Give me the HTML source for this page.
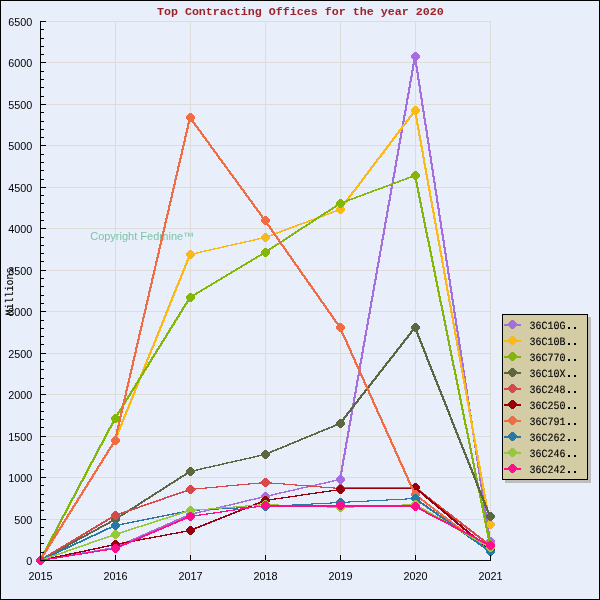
<!DOCTYPE html>
<html><head><meta charset="utf-8"><title>Top Contracting Offices for the year 2020</title>
<style>
html,body{margin:0;padding:0;background:#E8EEFA;}
body{width:600px;height:600px;overflow:hidden;}
svg{display:block;}
.ax{font-family:"Liberation Sans",sans-serif;font-size:10.8px;fill:#000;}
.mono{text-rendering:geometricPrecision;font-family:"Liberation Mono",monospace;font-size:12.0px;fill:#000;stroke:#000;stroke-width:0.12px;}
.title{font-family:"Liberation Mono",monospace;font-weight:bold;font-size:11px;fill:#9B2228;}
.cp{font-family:"Liberation Sans",sans-serif;font-size:11px;fill:#7DC4A6;}
</style></head><body>
<svg width="600" height="600" viewBox="0 0 600 600" style="will-change:transform">
<rect x="0" y="0" width="600" height="600" fill="#E8EEFA"/>
<rect x="0.5" y="0.5" width="599" height="599" fill="none" stroke="#000" stroke-width="1" shape-rendering="crispEdges"/>
<text class="title" transform="translate(300.3,15) scale(1.0606,1)" text-anchor="middle" xml:space="preserve">Top Contracting Offices for the year 2020</text>
<g stroke="#DDDCD8" stroke-width="1" shape-rendering="crispEdges">
<line x1="41" y1="519.5" x2="491" y2="519.5"/>
<line x1="41" y1="477.5" x2="491" y2="477.5"/>
<line x1="41" y1="436.5" x2="491" y2="436.5"/>
<line x1="41" y1="394.5" x2="491" y2="394.5"/>
<line x1="41" y1="353.5" x2="491" y2="353.5"/>
<line x1="41" y1="311.5" x2="491" y2="311.5"/>
<line x1="41" y1="270.5" x2="491" y2="270.5"/>
<line x1="41" y1="228.5" x2="491" y2="228.5"/>
<line x1="41" y1="187.5" x2="491" y2="187.5"/>
<line x1="41" y1="145.5" x2="491" y2="145.5"/>
<line x1="41" y1="104.5" x2="491" y2="104.5"/>
<line x1="41" y1="62.5" x2="491" y2="62.5"/>
<line x1="41" y1="21.5" x2="491" y2="21.5"/>
<line x1="115.5" y1="21" x2="115.5" y2="560"/>
<line x1="190.5" y1="21" x2="190.5" y2="560"/>
<line x1="265.5" y1="21" x2="265.5" y2="560"/>
<line x1="340.5" y1="21" x2="340.5" y2="560"/>
<line x1="415.5" y1="21" x2="415.5" y2="560"/>
<line x1="490.5" y1="21" x2="490.5" y2="560"/>
</g>
<text class="cp" x="90.2" y="240">Copyright Fedmine™</text>
<g shape-rendering="crispEdges" fill="#A46EDD">
<path d="M39,560 L114,547 L116,547 L116,548 L41,561 L39,561Z M114,547 L189,514 L191,514 L191,515 L116,548 L114,548Z M189,514 L264,496 L266,496 L266,497 L191,515 L189,515Z M264,496 L339,479 L341,479 L341,480 L266,497 L264,497Z M339,479 L414,56 L416,56 L416,57 L341,480 L339,480Z M414,56 L416,56 L491,541 L491,542 L489,542 L414,57Z"/>
<polygon points="39.5,556 41.5,556 45,559 45,562 41.5,565 39.5,565 36,562 36,559" fill="#A46EDD"/><polygon points="114.5,543 116.5,543 120,546 120,549 116.5,552 114.5,552 111,549 111,546" fill="#A46EDD"/><polygon points="189.5,510 191.5,510 195,513 195,516 191.5,519 189.5,519 186,516 186,513" fill="#A46EDD"/><polygon points="264.5,492 266.5,492 270,495 270,498 266.5,501 264.5,501 261,498 261,495" fill="#A46EDD"/><polygon points="339.5,475 341.5,475 345,478 345,481 341.5,484 339.5,484 336,481 336,478" fill="#A46EDD"/><polygon points="414.5,52 416.5,52 420,55 420,58 416.5,61 414.5,61 411,58 411,55" fill="#A46EDD"/><polygon points="489.5,537 491.5,537 495,540 495,543 491.5,546 489.5,546 486,543 486,540" fill="#A46EDD"/></g>
<g shape-rendering="crispEdges" fill="#FBB917">
<path d="M39,560 L114,440 L116,440 L116,441 L41,561 L39,561Z M114,440 L189,254 L191,254 L191,255 L116,441 L114,441Z M189,254 L264,237 L266,237 L266,238 L191,255 L189,255Z M264,237 L339,209 L341,209 L341,210 L266,238 L264,238Z M339,209 L414,110 L416,110 L416,111 L341,210 L339,210Z M414,110 L416,110 L491,524 L491,525 L489,525 L414,111Z"/>
<polygon points="39.5,556 41.5,556 45,559 45,562 41.5,565 39.5,565 36,562 36,559" fill="#FBB917"/><polygon points="114.5,436 116.5,436 120,439 120,442 116.5,445 114.5,445 111,442 111,439" fill="#FBB917"/><polygon points="189.5,250 191.5,250 195,253 195,256 191.5,259 189.5,259 186,256 186,253" fill="#FBB917"/><polygon points="264.5,233 266.5,233 270,236 270,239 266.5,242 264.5,242 261,239 261,236" fill="#FBB917"/><polygon points="339.5,205 341.5,205 345,208 345,211 341.5,214 339.5,214 336,211 336,208" fill="#FBB917"/><polygon points="414.5,106 416.5,106 420,109 420,112 416.5,115 414.5,115 411,112 411,109" fill="#FBB917"/><polygon points="489.5,520 491.5,520 495,523 495,526 491.5,529 489.5,529 486,526 486,523" fill="#FBB917"/></g>
<g shape-rendering="crispEdges" fill="#84B60A">
<path d="M39,560 L114,418 L116,418 L116,419 L41,561 L39,561Z M114,418 L189,297 L191,297 L191,298 L116,419 L114,419Z M189,297 L264,252 L266,252 L266,253 L191,298 L189,298Z M264,252 L339,203 L341,203 L341,204 L266,253 L264,253Z M339,203 L414,175 L416,175 L416,176 L341,204 L339,204Z M414,175 L416,175 L491,544 L491,545 L489,545 L414,176Z"/>
<polygon points="39.5,556 41.5,556 45,559 45,562 41.5,565 39.5,565 36,562 36,559" fill="#84B60A"/><polygon points="114.5,414 116.5,414 120,417 120,420 116.5,423 114.5,423 111,420 111,417" fill="#84B60A"/><polygon points="189.5,293 191.5,293 195,296 195,299 191.5,302 189.5,302 186,299 186,296" fill="#84B60A"/><polygon points="264.5,248 266.5,248 270,251 270,254 266.5,257 264.5,257 261,254 261,251" fill="#84B60A"/><polygon points="339.5,199 341.5,199 345,202 345,205 341.5,208 339.5,208 336,205 336,202" fill="#84B60A"/><polygon points="414.5,171 416.5,171 420,174 420,177 416.5,180 414.5,180 411,177 411,174" fill="#84B60A"/><polygon points="489.5,540 491.5,540 495,543 495,546 491.5,549 489.5,549 486,546 486,543" fill="#84B60A"/></g>
<g shape-rendering="crispEdges" fill="#5C6641">
<path d="M39,560 L114,519 L116,519 L116,520 L41,561 L39,561Z M114,519 L189,471 L191,471 L191,472 L116,520 L114,520Z M189,471 L264,454 L266,454 L266,455 L191,472 L189,472Z M264,454 L339,423 L341,423 L341,424 L266,455 L264,455Z M339,423 L414,327 L416,327 L416,328 L341,424 L339,424Z M414,327 L416,327 L491,516 L491,517 L489,517 L414,328Z"/>
<polygon points="39.5,556 41.5,556 45,559 45,562 41.5,565 39.5,565 36,562 36,559" fill="#5C6641"/><polygon points="114.5,515 116.5,515 120,518 120,521 116.5,524 114.5,524 111,521 111,518" fill="#5C6641"/><polygon points="189.5,467 191.5,467 195,470 195,473 191.5,476 189.5,476 186,473 186,470" fill="#5C6641"/><polygon points="264.5,450 266.5,450 270,453 270,456 266.5,459 264.5,459 261,456 261,453" fill="#5C6641"/><polygon points="339.5,419 341.5,419 345,422 345,425 341.5,428 339.5,428 336,425 336,422" fill="#5C6641"/><polygon points="414.5,323 416.5,323 420,326 420,329 416.5,332 414.5,332 411,329 411,326" fill="#5C6641"/><polygon points="489.5,512 491.5,512 495,515 495,518 491.5,521 489.5,521 486,518 486,515" fill="#5C6641"/></g>
<g shape-rendering="crispEdges" fill="#D8484B">
<path d="M39,560 L114,515 L116,515 L116,516 L41,561 L39,561Z M114,515 L189,489 L191,489 L191,490 L116,516 L114,516Z M189,489 L264,482 L266,482 L266,483 L191,490 L189,490Z M264,482 L266,482 L341,488 L341,489 L339,489 L264,483Z M340,487 L416,487 L416,489 L340,489Z M414,487 L416,487 L491,545 L491,546 L489,546 L414,488Z"/>
<polygon points="39.5,556 41.5,556 45,559 45,562 41.5,565 39.5,565 36,562 36,559" fill="#D8484B"/><polygon points="114.5,511 116.5,511 120,514 120,517 116.5,520 114.5,520 111,517 111,514" fill="#D8484B"/><polygon points="189.5,485 191.5,485 195,488 195,491 191.5,494 189.5,494 186,491 186,488" fill="#D8484B"/><polygon points="264.5,478 266.5,478 270,481 270,484 266.5,487 264.5,487 261,484 261,481" fill="#D8484B"/><polygon points="339.5,484 341.5,484 345,487 345,490 341.5,493 339.5,493 336,490 336,487" fill="#D8484B"/><polygon points="414.5,483 416.5,483 420,486 420,489 416.5,492 414.5,492 411,489 411,486" fill="#D8484B"/><polygon points="489.5,541 491.5,541 495,544 495,547 491.5,550 489.5,550 486,547 486,544" fill="#D8484B"/></g>
<g shape-rendering="crispEdges" fill="#98000F">
<path d="M39,560 L114,544 L116,544 L116,545 L41,561 L39,561Z M114,544 L189,530 L191,530 L191,531 L116,545 L114,545Z M189,530 L264,500 L266,500 L266,501 L191,531 L189,531Z M264,500 L339,489 L341,489 L341,490 L266,501 L264,501Z M340,488 L416,488 L416,489 L340,489Z M414,487 L416,487 L491,550 L491,551 L489,551 L414,488Z"/>
<polygon points="39.5,556 41.5,556 45,559 45,562 41.5,565 39.5,565 36,562 36,559" fill="#98000F"/><polygon points="114.5,540 116.5,540 120,543 120,546 116.5,549 114.5,549 111,546 111,543" fill="#98000F"/><polygon points="189.5,526 191.5,526 195,529 195,532 191.5,535 189.5,535 186,532 186,529" fill="#98000F"/><polygon points="264.5,496 266.5,496 270,499 270,502 266.5,505 264.5,505 261,502 261,499" fill="#98000F"/><polygon points="339.5,485 341.5,485 345,488 345,491 341.5,494 339.5,494 336,491 336,488" fill="#98000F"/><polygon points="414.5,483 416.5,483 420,486 420,489 416.5,492 414.5,492 411,489 411,486" fill="#98000F"/><polygon points="489.5,546 491.5,546 495,549 495,552 491.5,555 489.5,555 486,552 486,549" fill="#98000F"/></g>
<g shape-rendering="crispEdges" fill="#EF6C45">
<path d="M39,560 L114,440 L116,440 L116,441 L41,561 L39,561Z M114,440 L189,117 L191,117 L191,118 L116,441 L114,441Z M189,117 L191,117 L266,220 L266,221 L264,221 L189,118Z M264,220 L266,220 L341,327 L341,328 L339,328 L264,221Z M339,327 L341,327 L416,494 L416,495 L414,495 L339,328Z M414,494 L416,494 L491,551 L491,552 L489,552 L414,495Z"/>
<polygon points="39.5,556 41.5,556 45,559 45,562 41.5,565 39.5,565 36,562 36,559" fill="#EF6C45"/><polygon points="114.5,436 116.5,436 120,439 120,442 116.5,445 114.5,445 111,442 111,439" fill="#EF6C45"/><polygon points="189.5,113 191.5,113 195,116 195,119 191.5,122 189.5,122 186,119 186,116" fill="#EF6C45"/><polygon points="264.5,216 266.5,216 270,219 270,222 266.5,225 264.5,225 261,222 261,219" fill="#EF6C45"/><polygon points="339.5,323 341.5,323 345,326 345,329 341.5,332 339.5,332 336,329 336,326" fill="#EF6C45"/><polygon points="414.5,490 416.5,490 420,493 420,496 416.5,499 414.5,499 411,496 411,493" fill="#EF6C45"/><polygon points="489.5,547 491.5,547 495,550 495,553 491.5,556 489.5,556 486,553 486,550" fill="#EF6C45"/></g>
<g shape-rendering="crispEdges" fill="#2878A8">
<path d="M39,560 L114,525 L116,525 L116,526 L41,561 L39,561Z M114,525 L189,510 L191,510 L191,511 L116,526 L114,526Z M189,510 L264,506 L266,506 L266,507 L191,511 L189,511Z M264,506 L339,502 L341,502 L341,503 L266,507 L264,507Z M339,502 L414,498 L416,498 L416,499 L341,503 L339,503Z M414,498 L416,498 L491,551 L491,552 L489,552 L414,499Z"/>
<polygon points="39.5,556 41.5,556 45,559 45,562 41.5,565 39.5,565 36,562 36,559" fill="#2878A8"/><polygon points="114.5,521 116.5,521 120,524 120,527 116.5,530 114.5,530 111,527 111,524" fill="#2878A8"/><polygon points="189.5,506 191.5,506 195,509 195,512 191.5,515 189.5,515 186,512 186,509" fill="#2878A8"/><polygon points="264.5,502 266.5,502 270,505 270,508 266.5,511 264.5,511 261,508 261,505" fill="#2878A8"/><polygon points="339.5,498 341.5,498 345,501 345,504 341.5,507 339.5,507 336,504 336,501" fill="#2878A8"/><polygon points="414.5,494 416.5,494 420,497 420,500 416.5,503 414.5,503 411,500 411,497" fill="#2878A8"/><polygon points="489.5,547 491.5,547 495,550 495,553 491.5,556 489.5,556 486,553 486,550" fill="#2878A8"/></g>
<g shape-rendering="crispEdges" fill="#96C83C">
<path d="M39,560 L114,534 L116,534 L116,535 L41,561 L39,561Z M114,534 L189,510 L191,510 L191,511 L116,535 L114,535Z M189,510 L264,504 L266,504 L266,505 L191,511 L189,511Z M264,504 L266,504 L341,507 L341,508 L339,508 L264,505Z M339,507 L414,504 L416,504 L416,505 L341,508 L339,508Z M414,504 L416,504 L491,547 L491,548 L489,548 L414,505Z"/>
<polygon points="39.5,556 41.5,556 45,559 45,562 41.5,565 39.5,565 36,562 36,559" fill="#96C83C"/><polygon points="114.5,530 116.5,530 120,533 120,536 116.5,539 114.5,539 111,536 111,533" fill="#96C83C"/><polygon points="189.5,506 191.5,506 195,509 195,512 191.5,515 189.5,515 186,512 186,509" fill="#96C83C"/><polygon points="264.5,500 266.5,500 270,503 270,506 266.5,509 264.5,509 261,506 261,503" fill="#96C83C"/><polygon points="339.5,503 341.5,503 345,506 345,509 341.5,512 339.5,512 336,509 336,506" fill="#96C83C"/><polygon points="414.5,500 416.5,500 420,503 420,506 416.5,509 414.5,509 411,506 411,503" fill="#96C83C"/><polygon points="489.5,543 491.5,543 495,546 495,549 491.5,552 489.5,552 486,549 486,546" fill="#96C83C"/></g>
<g shape-rendering="crispEdges" fill="#FF0E8C">
<path d="M39,560 L114,548 L116,548 L116,549 L41,561 L39,561Z M114,548 L189,516 L191,516 L191,517 L116,549 L114,549Z M189,516 L264,505 L266,505 L266,506 L191,517 L189,517Z M265,505 L341,505 L341,507 L265,507Z M340,505 L416,505 L416,507 L340,507Z M414,506 L416,506 L491,545 L491,546 L489,546 L414,507Z"/>
<polygon points="39.5,556 41.5,556 45,559 45,562 41.5,565 39.5,565 36,562 36,559" fill="#FF0E8C"/><polygon points="114.5,544 116.5,544 120,547 120,550 116.5,553 114.5,553 111,550 111,547" fill="#FF0E8C"/><polygon points="189.5,512 191.5,512 195,515 195,518 191.5,521 189.5,521 186,518 186,515" fill="#FF0E8C"/><polygon points="264.5,501 266.5,501 270,504 270,507 266.5,510 264.5,510 261,507 261,504" fill="#FF0E8C"/><polygon points="339.5,501 341.5,501 345,504 345,507 341.5,510 339.5,510 336,507 336,504" fill="#FF0E8C"/><polygon points="414.5,502 416.5,502 420,505 420,508 416.5,511 414.5,511 411,508 411,505" fill="#FF0E8C"/><polygon points="489.5,541 491.5,541 495,544 495,547 491.5,550 489.5,550 486,547 486,544" fill="#FF0E8C"/></g>
<g stroke="#000" stroke-width="1" shape-rendering="crispEdges">
<line x1="40.5" y1="21" x2="40.5" y2="561"/>
<line x1="40" y1="560.5" x2="491" y2="560.5"/>
<line x1="41" y1="560.5" x2="46" y2="560.5"/>
<line x1="41" y1="552.5" x2="44" y2="552.5"/>
<line x1="41" y1="543.5" x2="44" y2="543.5"/>
<line x1="41" y1="535.5" x2="44" y2="535.5"/>
<line x1="41" y1="527.5" x2="44" y2="527.5"/>
<line x1="41" y1="519.5" x2="46" y2="519.5"/>
<line x1="41" y1="510.5" x2="44" y2="510.5"/>
<line x1="41" y1="502.5" x2="44" y2="502.5"/>
<line x1="41" y1="494.5" x2="44" y2="494.5"/>
<line x1="41" y1="485.5" x2="44" y2="485.5"/>
<line x1="41" y1="477.5" x2="46" y2="477.5"/>
<line x1="41" y1="469.5" x2="44" y2="469.5"/>
<line x1="41" y1="460.5" x2="44" y2="460.5"/>
<line x1="41" y1="452.5" x2="44" y2="452.5"/>
<line x1="41" y1="444.5" x2="44" y2="444.5"/>
<line x1="41" y1="436.5" x2="46" y2="436.5"/>
<line x1="41" y1="427.5" x2="44" y2="427.5"/>
<line x1="41" y1="419.5" x2="44" y2="419.5"/>
<line x1="41" y1="411.5" x2="44" y2="411.5"/>
<line x1="41" y1="402.5" x2="44" y2="402.5"/>
<line x1="41" y1="394.5" x2="46" y2="394.5"/>
<line x1="41" y1="386.5" x2="44" y2="386.5"/>
<line x1="41" y1="378.5" x2="44" y2="378.5"/>
<line x1="41" y1="369.5" x2="44" y2="369.5"/>
<line x1="41" y1="361.5" x2="44" y2="361.5"/>
<line x1="41" y1="353.5" x2="46" y2="353.5"/>
<line x1="41" y1="344.5" x2="44" y2="344.5"/>
<line x1="41" y1="336.5" x2="44" y2="336.5"/>
<line x1="41" y1="328.5" x2="44" y2="328.5"/>
<line x1="41" y1="320.5" x2="44" y2="320.5"/>
<line x1="41" y1="311.5" x2="46" y2="311.5"/>
<line x1="41" y1="303.5" x2="44" y2="303.5"/>
<line x1="41" y1="295.5" x2="44" y2="295.5"/>
<line x1="41" y1="286.5" x2="44" y2="286.5"/>
<line x1="41" y1="278.5" x2="44" y2="278.5"/>
<line x1="41" y1="270.5" x2="46" y2="270.5"/>
<line x1="41" y1="261.5" x2="44" y2="261.5"/>
<line x1="41" y1="253.5" x2="44" y2="253.5"/>
<line x1="41" y1="245.5" x2="44" y2="245.5"/>
<line x1="41" y1="237.5" x2="44" y2="237.5"/>
<line x1="41" y1="228.5" x2="46" y2="228.5"/>
<line x1="41" y1="220.5" x2="44" y2="220.5"/>
<line x1="41" y1="212.5" x2="44" y2="212.5"/>
<line x1="41" y1="203.5" x2="44" y2="203.5"/>
<line x1="41" y1="195.5" x2="44" y2="195.5"/>
<line x1="41" y1="187.5" x2="46" y2="187.5"/>
<line x1="41" y1="179.5" x2="44" y2="179.5"/>
<line x1="41" y1="170.5" x2="44" y2="170.5"/>
<line x1="41" y1="162.5" x2="44" y2="162.5"/>
<line x1="41" y1="154.5" x2="44" y2="154.5"/>
<line x1="41" y1="145.5" x2="46" y2="145.5"/>
<line x1="41" y1="137.5" x2="44" y2="137.5"/>
<line x1="41" y1="129.5" x2="44" y2="129.5"/>
<line x1="41" y1="121.5" x2="44" y2="121.5"/>
<line x1="41" y1="112.5" x2="44" y2="112.5"/>
<line x1="41" y1="104.5" x2="46" y2="104.5"/>
<line x1="41" y1="96.5" x2="44" y2="96.5"/>
<line x1="41" y1="87.5" x2="44" y2="87.5"/>
<line x1="41" y1="79.5" x2="44" y2="79.5"/>
<line x1="41" y1="71.5" x2="44" y2="71.5"/>
<line x1="41" y1="62.5" x2="46" y2="62.5"/>
<line x1="41" y1="54.5" x2="44" y2="54.5"/>
<line x1="41" y1="46.5" x2="44" y2="46.5"/>
<line x1="41" y1="38.5" x2="44" y2="38.5"/>
<line x1="41" y1="29.5" x2="44" y2="29.5"/>
<line x1="41" y1="21.5" x2="46" y2="21.5"/>
<line x1="115.5" y1="555" x2="115.5" y2="560"/>
<line x1="190.5" y1="555" x2="190.5" y2="560"/>
<line x1="265.5" y1="555" x2="265.5" y2="560"/>
<line x1="340.5" y1="555" x2="340.5" y2="560"/>
<line x1="415.5" y1="555" x2="415.5" y2="560"/>
<line x1="490.5" y1="555" x2="490.5" y2="560"/>
</g>
<text class="ax" x="32.3" y="565" text-anchor="end">0</text>
<text class="ax" x="32.3" y="524" text-anchor="end">500</text>
<text class="ax" x="32.3" y="482" text-anchor="end">1000</text>
<text class="ax" x="32.3" y="441" text-anchor="end">1500</text>
<text class="ax" x="32.3" y="399" text-anchor="end">2000</text>
<text class="ax" x="32.3" y="358" text-anchor="end">2500</text>
<text class="ax" x="32.3" y="316" text-anchor="end">3000</text>
<text class="ax" x="32.3" y="275" text-anchor="end">3500</text>
<text class="ax" x="32.3" y="233" text-anchor="end">4000</text>
<text class="ax" x="32.3" y="192" text-anchor="end">4500</text>
<text class="ax" x="32.3" y="150" text-anchor="end">5000</text>
<text class="ax" x="32.3" y="109" text-anchor="end">5500</text>
<text class="ax" x="32.3" y="67" text-anchor="end">6000</text>
<text class="ax" x="32.3" y="26" text-anchor="end">6500</text>
<text class="ax" x="40.5" y="580" text-anchor="middle">2015</text>
<text class="ax" x="115.5" y="580" text-anchor="middle">2016</text>
<text class="ax" x="190.5" y="580" text-anchor="middle">2017</text>
<text class="ax" x="265.5" y="580" text-anchor="middle">2018</text>
<text class="ax" x="340.5" y="580" text-anchor="middle">2019</text>
<text class="ax" x="415.5" y="580" text-anchor="middle">2020</text>
<text class="ax" x="490.5" y="580" text-anchor="middle">2021</text>
<text class="mono" transform="translate(12.5,291.5) rotate(-90) scale(0.8332,0.93)" text-anchor="middle">Millions</text>
<g shape-rendering="crispEdges"><rect x="505" y="317" width="86" height="166" fill="#BDBDBD"/>
<rect x="502.5" y="314.5" width="85" height="165" fill="#D4CCA4" stroke="#000" stroke-width="1"/></g>
<g shape-rendering="crispEdges"><line x1="504" y1="324.5" x2="521" y2="324.5" stroke="#A46EDD" stroke-width="2"/><polygon points="511.5,320 513.5,320 517,323 517,326 513.5,329 511.5,329 508,326 508,323" fill="#A46EDD"/></g>
<text class="mono" transform="translate(529.4,329.0) scale(0.8332,0.93)" xml:space="preserve">36C10G</text>
<rect x="568" y="327.0" width="2" height="2" fill="#000" shape-rendering="crispEdges"/><rect x="574" y="327.0" width="2" height="2" fill="#000" shape-rendering="crispEdges"/>
<g shape-rendering="crispEdges"><line x1="504" y1="340.5" x2="521" y2="340.5" stroke="#FBB917" stroke-width="2"/><polygon points="511.5,336 513.5,336 517,339 517,342 513.5,345 511.5,345 508,342 508,339" fill="#FBB917"/></g>
<text class="mono" transform="translate(529.4,345.0) scale(0.8332,0.93)" xml:space="preserve">36C10B</text>
<rect x="568" y="343.0" width="2" height="2" fill="#000" shape-rendering="crispEdges"/><rect x="574" y="343.0" width="2" height="2" fill="#000" shape-rendering="crispEdges"/>
<g shape-rendering="crispEdges"><line x1="504" y1="356.5" x2="521" y2="356.5" stroke="#84B60A" stroke-width="2"/><polygon points="511.5,352 513.5,352 517,355 517,358 513.5,361 511.5,361 508,358 508,355" fill="#84B60A"/></g>
<text class="mono" transform="translate(529.4,361.0) scale(0.8332,0.93)" xml:space="preserve">36C770</text>
<rect x="568" y="359.0" width="2" height="2" fill="#000" shape-rendering="crispEdges"/><rect x="574" y="359.0" width="2" height="2" fill="#000" shape-rendering="crispEdges"/>
<g shape-rendering="crispEdges"><line x1="504" y1="372.5" x2="521" y2="372.5" stroke="#5C6641" stroke-width="2"/><polygon points="511.5,368 513.5,368 517,371 517,374 513.5,377 511.5,377 508,374 508,371" fill="#5C6641"/></g>
<text class="mono" transform="translate(529.4,377.0) scale(0.8332,0.93)" xml:space="preserve">36C10X</text>
<rect x="568" y="375.0" width="2" height="2" fill="#000" shape-rendering="crispEdges"/><rect x="574" y="375.0" width="2" height="2" fill="#000" shape-rendering="crispEdges"/>
<g shape-rendering="crispEdges"><line x1="504" y1="388.5" x2="521" y2="388.5" stroke="#D8484B" stroke-width="2"/><polygon points="511.5,384 513.5,384 517,387 517,390 513.5,393 511.5,393 508,390 508,387" fill="#D8484B"/></g>
<text class="mono" transform="translate(529.4,393.0) scale(0.8332,0.93)" xml:space="preserve">36C248</text>
<rect x="568" y="391.0" width="2" height="2" fill="#000" shape-rendering="crispEdges"/><rect x="574" y="391.0" width="2" height="2" fill="#000" shape-rendering="crispEdges"/>
<g shape-rendering="crispEdges"><line x1="504" y1="404.5" x2="521" y2="404.5" stroke="#98000F" stroke-width="2"/><polygon points="511.5,400 513.5,400 517,403 517,406 513.5,409 511.5,409 508,406 508,403" fill="#98000F"/></g>
<text class="mono" transform="translate(529.4,409.0) scale(0.8332,0.93)" xml:space="preserve">36C250</text>
<rect x="568" y="407.0" width="2" height="2" fill="#000" shape-rendering="crispEdges"/><rect x="574" y="407.0" width="2" height="2" fill="#000" shape-rendering="crispEdges"/>
<g shape-rendering="crispEdges"><line x1="504" y1="420.5" x2="521" y2="420.5" stroke="#EF6C45" stroke-width="2"/><polygon points="511.5,416 513.5,416 517,419 517,422 513.5,425 511.5,425 508,422 508,419" fill="#EF6C45"/></g>
<text class="mono" transform="translate(529.4,425.0) scale(0.8332,0.93)" xml:space="preserve">36C791</text>
<rect x="568" y="423.0" width="2" height="2" fill="#000" shape-rendering="crispEdges"/><rect x="574" y="423.0" width="2" height="2" fill="#000" shape-rendering="crispEdges"/>
<g shape-rendering="crispEdges"><line x1="504" y1="436.5" x2="521" y2="436.5" stroke="#2878A8" stroke-width="2"/><polygon points="511.5,432 513.5,432 517,435 517,438 513.5,441 511.5,441 508,438 508,435" fill="#2878A8"/></g>
<text class="mono" transform="translate(529.4,441.0) scale(0.8332,0.93)" xml:space="preserve">36C262</text>
<rect x="568" y="439.0" width="2" height="2" fill="#000" shape-rendering="crispEdges"/><rect x="574" y="439.0" width="2" height="2" fill="#000" shape-rendering="crispEdges"/>
<g shape-rendering="crispEdges"><line x1="504" y1="452.5" x2="521" y2="452.5" stroke="#96C83C" stroke-width="2"/><polygon points="511.5,448 513.5,448 517,451 517,454 513.5,457 511.5,457 508,454 508,451" fill="#96C83C"/></g>
<text class="mono" transform="translate(529.4,457.0) scale(0.8332,0.93)" xml:space="preserve">36C246</text>
<rect x="568" y="455.0" width="2" height="2" fill="#000" shape-rendering="crispEdges"/><rect x="574" y="455.0" width="2" height="2" fill="#000" shape-rendering="crispEdges"/>
<g shape-rendering="crispEdges"><line x1="504" y1="468.5" x2="521" y2="468.5" stroke="#FF0E8C" stroke-width="2"/><polygon points="511.5,464 513.5,464 517,467 517,470 513.5,473 511.5,473 508,470 508,467" fill="#FF0E8C"/></g>
<text class="mono" transform="translate(529.4,473.0) scale(0.8332,0.93)" xml:space="preserve">36C242</text>
<rect x="568" y="471.0" width="2" height="2" fill="#000" shape-rendering="crispEdges"/><rect x="574" y="471.0" width="2" height="2" fill="#000" shape-rendering="crispEdges"/>
</svg>
</body></html>
